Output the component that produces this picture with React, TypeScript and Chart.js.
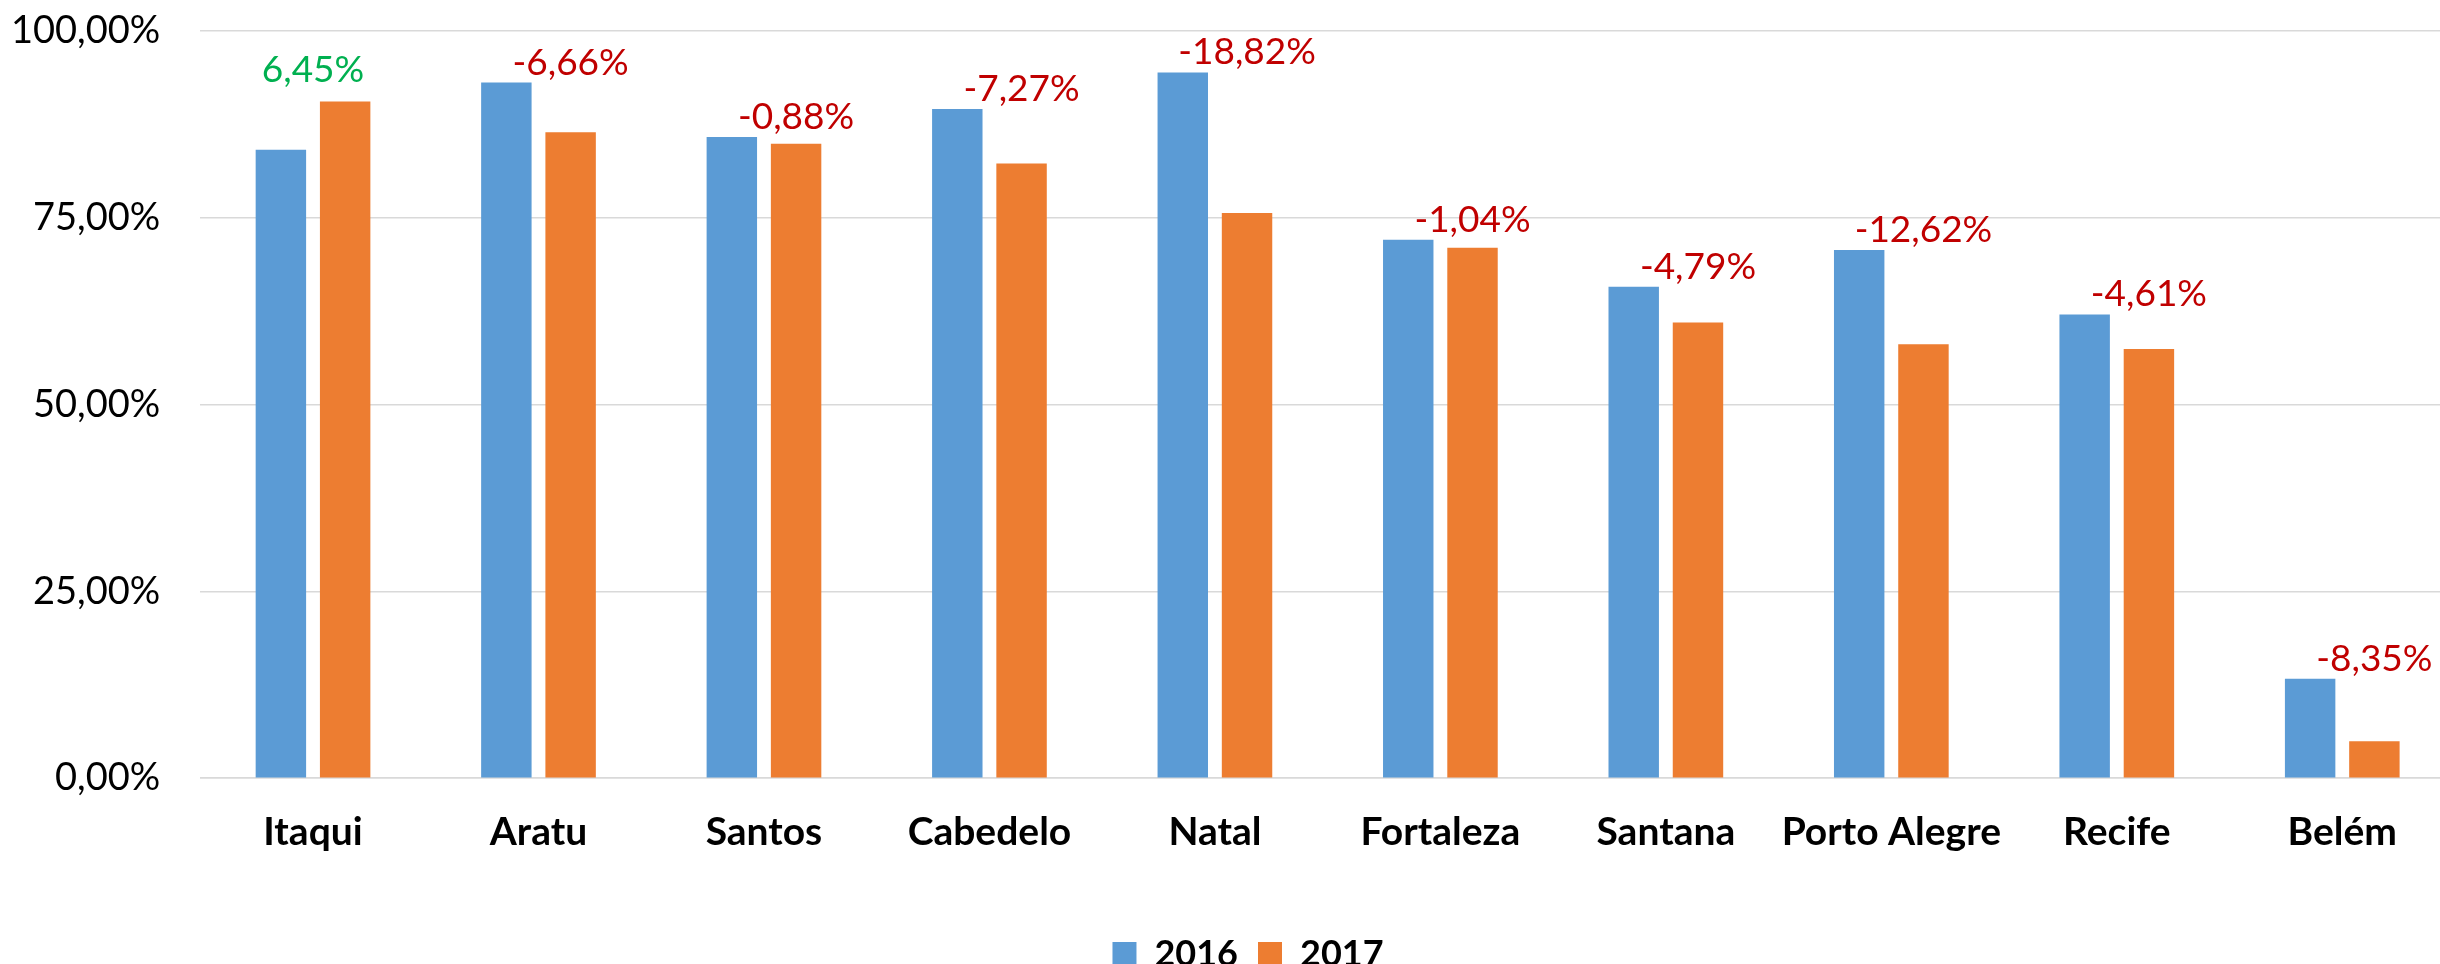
import React, { useEffect, useRef } from "react";
import { Chart, registerables } from "chart.js";

Chart.register(...registerables);

const categories = ["Itaqui", "Aratu", "Santos", "Cabedelo", "Natal", "Fortaleza", "Santana", "Porto Alegre", "Recife", "Belém"];
const values2016 = [84.1, 93.1, 85.8, 89.55, 94.46, 72.05, 65.78, 70.7, 62.06, 13.3];
const values2017 = [90.55, 86.45, 84.9, 82.28, 75.64, 71.0, 60.99, 58.08, 57.45, 4.95];
const changes = [6.45, -6.66, -0.88, -7.27, -18.82, -1.04, -4.79, -12.62, -4.61, -8.35];
const seriesNames = ["2016", "2017"];
const yMin = 0;
const yMax = 100;
const yStep = 25;

const fmt = (v: number) => v.toFixed(2).replace(".", ",") + "%";

const changeLabels = {
  id: "changeLabels",
  afterLayout(chart: any) {
    if (chart.legend) {
      chart.legend.left += 35;
      chart.legend.right += 35;
    }
  },
  afterDatasetsDraw(chart: any) {
    const ctx = chart.ctx;
    const m0 = chart.getDatasetMeta(0);
    const m1 = chart.getDatasetMeta(1);
    ctx.save();
    ctx.font = "37px Lato";
    ctx.textAlign = "center";
    ctx.textBaseline = "alphabetic";
    changes.forEach((c, i) => {
      const e0 = m0.data[i];
      const e1 = m1.data[i];
      const top = Math.min(e0.y, e1.y);
      const up = c >= 0;
      const x = up ? (e0.x + e1.x) / 2 : e1.x;
      const gap = up ? 20 : 8;
      ctx.fillStyle = up ? "#00B050" : "#C00000";
      ctx.fillText(fmt(c), x, top - gap);
    });
    ctx.restore();
  },
};

export default function App() {
  const ref = useRef<HTMLCanvasElement>(null);
  useEffect(() => {
    if (!ref.current) return;
    const chart = new Chart(ref.current, {
      type: "bar",
      data: {
        labels: categories,
        datasets: [
          { label: seriesNames[0], data: values2016, backgroundColor: "#5B9BD5", categoryPercentage: 0.57, barPercentage: 0.785 },
          { label: seriesNames[1], data: values2017, backgroundColor: "#ED7D31", categoryPercentage: 0.57, barPercentage: 0.785 },
        ],
      },
      options: {
        animation: false,
        responsive: false,
        devicePixelRatio: 1,
        layout: { padding: { left: -29, right: 39, top: 0, bottom: 0 } },
        plugins: {
          legend: {
            position: "bottom",
            labels: {
              boxWidth: 24,
              boxHeight: 24,
              padding: 20,
              color: "#000",
              font: { family: "Lato", size: 36, weight: "bold" },
            },
          },
          tooltip: { enabled: false },
        },
        scales: {
          x: {
            grid: { display: false },
            border: { display: true, color: "#D9D9D9", width: 1.5 },
            ticks: { color: "#000", font: { family: "Lato", size: 39, weight: "bold" }, padding: 23 },
            afterFit: (axis: any) => {
              axis.height += 37;
            },
          },
          y: {
            min: yMin,
            max: yMax,
            grid: { color: "#D9D9D9", lineWidth: 1.5, drawTicks: false },
            border: { display: false },
            ticks: {
              stepSize: yStep,
              color: "#000",
              padding: 40,
              font: { family: "Lato", size: 38 },
              callback: (v: any) => fmt(Number(v)),
            },
            afterFit: (axis: any) => {
              axis.paddingTop = 31;
              axis.paddingBottom = 23;
            },
          },
        },
      },
      plugins: [changeLabels],
    });
    return () => chart.destroy();
  }, []);
  return (
    <div style={{ position: "absolute", left: 0, top: 0, width: 2440, height: 964, overflow: "hidden", background: "#fff" }}>
      <canvas ref={ref} width={2494} height={982} style={{ display: "block" }} />
    </div>
  );
}
